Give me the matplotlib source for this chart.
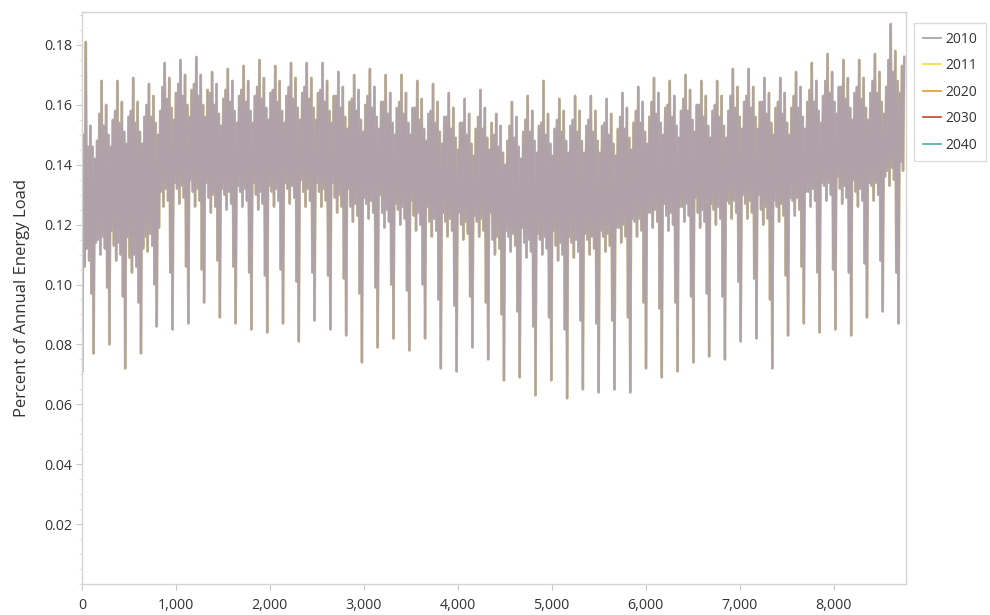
import numpy as np
import matplotlib
matplotlib.use("Agg")
import matplotlib.pyplot as plt
from matplotlib.ticker import MultipleLocator, StrMethodFormatter, FixedLocator
from matplotlib.lines import Line2D

plt.rcParams['font.family'] = ['Open Sans', 'DejaVu Sans']

# ---- data (weekly summaries of the hourly load share) ----
years = ["2010", "2011", "2020", "2030", "2040"]
year_colors = ["#aea2a8", "#f3dc4e", "#e3a23a", "#c9553f", "#5fb3b0"]

# highest value in each week
week_peak = [0.181, 0.168, 0.168, 0.169, 0.167, 0.174, 0.175, 0.176, 0.171, 0.172, 0.173, 0.175, 0.173,
             0.174, 0.174, 0.174, 0.171, 0.170, 0.172, 0.170, 0.170, 0.168, 0.167, 0.164, 0.162, 0.165,
             0.157, 0.161, 0.163, 0.168, 0.162, 0.163, 0.163, 0.162, 0.164, 0.166, 0.169, 0.168, 0.170,
             0.168, 0.168, 0.172, 0.172, 0.169, 0.169, 0.171, 0.174, 0.177, 0.175, 0.175, 0.177, 0.187, 0.185]
# typical weekday daily maximum
week_top = [0.150, 0.157, 0.158, 0.158, 0.160, 0.166, 0.167, 0.167, 0.164, 0.165, 0.165, 0.166, 0.165,
            0.166, 0.166, 0.165, 0.163, 0.162, 0.163, 0.161, 0.161, 0.159, 0.158, 0.156, 0.154, 0.156,
            0.150, 0.153, 0.155, 0.154, 0.155, 0.155, 0.155, 0.154, 0.156, 0.158, 0.161, 0.160, 0.162,
            0.160, 0.160, 0.163, 0.163, 0.161, 0.161, 0.163, 0.165, 0.168, 0.166, 0.166, 0.168, 0.175, 0.176]
# typical weekday daily minimum
week_low = [0.108, 0.112, 0.110, 0.106, 0.113, 0.128, 0.129, 0.128, 0.126, 0.127, 0.128, 0.127, 0.128,
            0.129, 0.128, 0.128, 0.126, 0.123, 0.124, 0.121, 0.122, 0.120, 0.118, 0.118, 0.117, 0.118,
            0.112, 0.113, 0.111, 0.112, 0.110, 0.111, 0.112, 0.113, 0.116, 0.118, 0.121, 0.120, 0.123,
            0.121, 0.122, 0.124, 0.124, 0.122, 0.123, 0.125, 0.128, 0.130, 0.129, 0.128, 0.130, 0.135, 0.135]
# weekend daily maximum
weekend_top = [0.142, 0.146, 0.147, 0.147, 0.150, 0.155, 0.156, 0.156, 0.153, 0.154, 0.154, 0.155, 0.154,
               0.155, 0.155, 0.154, 0.152, 0.151, 0.152, 0.150, 0.150, 0.148, 0.147, 0.145, 0.143, 0.145,
               0.140, 0.142, 0.144, 0.143, 0.144, 0.144, 0.144, 0.143, 0.145, 0.147, 0.150, 0.149, 0.151,
               0.149, 0.149, 0.152, 0.152, 0.150, 0.150, 0.152, 0.154, 0.157, 0.155, 0.155, 0.157, 0.164, 0.165]
# Saturday minimum
sat_low = [0.097, 0.099, 0.096, 0.094, 0.100, 0.104, 0.106, 0.105, 0.108, 0.106, 0.104, 0.103, 0.105,
           0.101, 0.104, 0.103, 0.102, 0.097, 0.099, 0.100, 0.098, 0.100, 0.095, 0.093, 0.096, 0.094,
           0.090, 0.091, 0.086, 0.089, 0.085, 0.088, 0.087, 0.088, 0.089, 0.094, 0.092, 0.094, 0.096,
           0.097, 0.096, 0.101, 0.102, 0.095, 0.103, 0.106, 0.104, 0.105, 0.104, 0.107, 0.108, 0.104, 0.112]
# weekly deepest dip (Sunday minimum)
week_dip = [0.077, 0.080, 0.072, 0.077, 0.086, 0.085, 0.087, 0.094, 0.089, 0.087, 0.085, 0.084, 0.087,
            0.081, 0.088, 0.085, 0.083, 0.074, 0.079, 0.082, 0.078, 0.082, 0.072, 0.071, 0.079, 0.075,
            0.068, 0.069, 0.063, 0.068, 0.062, 0.065, 0.064, 0.065, 0.064, 0.072, 0.069, 0.071, 0.074,
            0.076, 0.075, 0.081, 0.082, 0.072, 0.083, 0.087, 0.084, 0.085, 0.083, 0.089, 0.091, 0.087, 0.097]
# day-of-week adjustments to the typical weekday max / min (days 4 and 5 are the weekend)
weekday_max_adj = [0.000, 0.000, -0.004, 0.003, 0.004, 0.000, -0.002]
weekday_min_adj = [0.003, -0.002, 0.004, 0.000, 0.000, 0.000, 0.006]
jan1_min = 0.071

# ---- assemble daily minimum / maximum points ----
hours, vals = [], []
for d in range(365):
    w, k = divmod(d, 7)
    if k == 5:
        lo, hi = week_dip[w], weekend_top[w]
    elif k == 4:
        lo, hi = sat_low[w], weekend_top[w] + weekday_max_adj[k]
    else:
        lo = week_low[w] + weekday_min_adj[k]
        hi = week_peak[w] if k == 1 else week_top[w] + weekday_max_adj[k]
    if d == 0:
        lo = jan1_min
    hours += [24 * d + 4, 24 * d + 17]
    vals += [lo, hi]
hours = np.array(hours)
vals = np.array(vals)

fig = plt.figure(figsize=(9.9, 6.15), dpi=100)
ax = fig.add_axes([0.0828, 0.0504, 0.8322, 0.9301])

# later-year series drawn underneath (they coincide), 2010 on top
for yr, col in zip(years[1:], year_colors[1:]):
    ax.plot(hours, vals, color=col, lw=1.8, alpha=0.25)
ax.plot(hours, vals, color=year_colors[0], lw=1.3)

ax.set_xlim(0, 8770)
ax.set_ylim(0, 0.191)
ax.xaxis.set_major_locator(MultipleLocator(1000))
ax.xaxis.set_major_formatter(StrMethodFormatter('{x:,.0f}'))
ax.yaxis.set_major_locator(FixedLocator([0.02, 0.04, 0.06, 0.08, 0.10, 0.12, 0.14, 0.16, 0.18]))
ax.yaxis.set_major_formatter(StrMethodFormatter('{x:.2f}'))
ax.yaxis.set_minor_locator(MultipleLocator(0.005))

for s in ax.spines.values():
    s.set_color('#d4d4d4')
    s.set_linewidth(1.0)
ax.tick_params(axis='both', which='major', length=4, width=0.8, color='#c8c8c8',
               labelsize=10.3, labelcolor='#333333')
ax.tick_params(axis='x', which='major', pad=6)
ax.tick_params(axis='y', which='major', pad=3)
ax.tick_params(axis='y', which='minor', length=2, width=0.6, color='#dddddd')
ax.set_ylabel('Percent of Annual Energy Load', fontsize=12, color='#333333', labelpad=10)

handles = [Line2D([], [], color=c, lw=1.3) for c in year_colors]
leg = fig.legend(handles, years, loc='upper left', bbox_to_anchor=(0.9235, 0.962),
                 fontsize=10, frameon=True, fancybox=False, handlelength=1.3,
                 handletextpad=0.35, labelspacing=0.83, borderpad=0.6, borderaxespad=0)
leg.get_frame().set_edgecolor('#d4d4d4')
leg.get_frame().set_linewidth(1.0)
for t in leg.get_texts():
    t.set_color('#333333')

fig.savefig('out.png', dpi=100)
